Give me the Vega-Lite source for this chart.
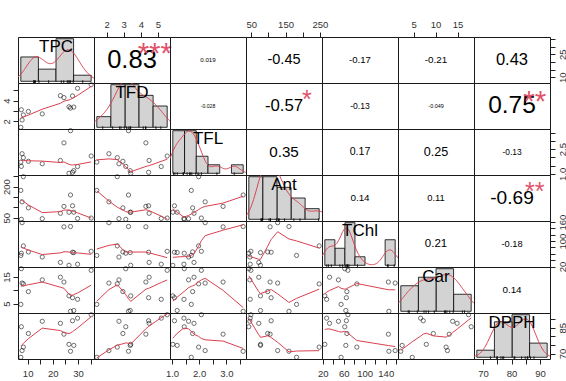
{
"$schema":"https://vega.github.io/schema/vega-lite/v6.json",
"padding":{"left":0,"top":18,"right":0,"bottom":0},
"background":"white",
"datasets":{"obs":[
{"TPC":7.3,"TFD":1.42,"TFL":1.71,"Ant":182,"TChl":55,"Car":4.7,"DPPH":67.8},
{"TPC":7.5,"TFD":3.12,"TFL":1.45,"Ant":43,"TChl":62,"Car":18.1,"DPPH":85.5},
{"TPC":7.8,"TFD":2.13,"TFL":2.22,"Ant":127,"TChl":158,"Car":12.7,"DPPH":71.7},
{"TPC":8.3,"TFD":2.62,"TFL":1.98,"Ant":248,"TChl":85,"Car":12.4,"DPPH":73.7},
{"TPC":10.3,"TFD":2.95,"TFL":1.76,"Ant":98,"TChl":66,"Car":9.5,"DPPH":81.6},
{"TPC":15.8,"TFD":2.72,"TFL":1.61,"Ant":46,"TChl":50,"Car":13.9,"DPPH":88.7},
{"TPC":23.0,"TFD":4.49,"TFL":1.81,"Ant":72,"TChl":33,"Car":14.9,"DPPH":87.5},
{"TPC":24.4,"TFD":4.30,"TFL":2.88,"Ant":105,"TChl":145,"Car":13.1,"DPPH":81.2},
{"TPC":26.4,"TFD":3.41,"TFL":1.03,"Ant":77,"TChl":24,"Car":7.9,"DPPH":75.3},
{"TPC":27.0,"TFD":3.28,"TFL":3.62,"Ant":160,"TChl":146,"Car":2.1,"DPPH":71.3},
{"TPC":27.8,"TFD":4.46,"TFL":1.09,"Ant":108,"TChl":65,"Car":7.2,"DPPH":89.0},
{"TPC":28.3,"TFD":3.38,"TFL":1.19,"Ant":77,"TChl":64,"Car":2.4,"DPPH":74.7},
{"TPC":29.8,"TFD":5.20,"TFL":1.44,"Ant":47,"TChl":27.5,"Car":6.6,"DPPH":90.5},
{"TPC":35.2,"TFD":5.55,"TFL":2.08,"Ant":49,"TChl":68,"Car":17.5,"DPPH":92.5}
]},
"columns":7,
"spacing":0,
"bounds":"flush",
"concat":[
{"width":76,"height":46,"data":{"name":"obs"},"layer":[
 {"transform":[{"bin":{"extent":[0,40],"step":10},"field":"TPC","as":["s_TPC","e_TPC"]},{"aggregate":[{"op":"count","as":"n_TPC"}],"groupby":["s_TPC","e_TPC"]}],"mark":{"type":"bar","fill":"#d3d3d3","stroke":"#000","strokeWidth":0.8,"clip":true},"encoding":{"x":{"field":"s_TPC","type":"quantitative","scale":{"domain":[-1.6,41.6],"nice":false,"zero":false},"axis":null},"x2":{"field":"e_TPC"},"y":{"field":"n_TPC","type":"quantitative","scale":{"domain":[-0.28,7.28],"nice":false,"zero":false},"axis":null},"y2":{"datum":0}}},
 {"transform":[{"density":"TPC","bandwidth":5.29,"extent":[-1.6,41.6],"steps":120,"as":["v_TPC","d_TPC"]}],"mark":{"type":"line","color":"#d9404f","strokeWidth":1,"clip":true},"encoding":{"x":{"field":"v_TPC","type":"quantitative","scale":{"domain":[-1.6,41.6],"nice":false,"zero":false},"axis":null},"y":{"field":"d_TPC","type":"quantitative","scale":{"domain":[-0.002,0.052],"nice":false,"zero":false},"axis":null}}},
 {"mark":{"type":"rule","color":"#000","strokeWidth":0.8},"encoding":{"x":{"field":"TPC","type":"quantitative","scale":{"domain":[-1.6,41.6],"nice":false,"zero":false},"axis":null},"y":{"datum":-0.28,"type":"quantitative","scale":{"domain":[-0.28,7.28],"nice":false,"zero":false},"axis":null},"y2":{"datum":0.174}}},
 {"data":{"values":[{"name":"TPC"}]},"mark":{"type":"text","fontSize":17},"encoding":{"text":{"field":"name"},"x":{"datum":0.5,"type":"quantitative","scale":{"domain":[0,1]},"axis":null},"y":{"datum":0.78,"type":"quantitative","scale":{"domain":[0,1]},"axis":null}}}
],"resolve":{"scale":{"x":"independent","y":"independent"}}},
{"width":76,"height":46,"data":{"values":[{"r":"0.83","sig":"***"}]},"layer":[
 {"mark":{"type":"text","fontSize":25.5},"encoding":{"text":{"field":"r"},"x":{"datum":0.5,"type":"quantitative","scale":{"domain":[0,1]},"axis":null},"y":{"datum":0.5,"type":"quantitative","scale":{"domain":[0,1]},"axis":null}}},
 {"mark":{"type":"text","fontSize":29.4,"color":"#DF536B"},"encoding":{"text":{"field":"sig"},"x":{"datum":0.8,"type":"quantitative","scale":{"domain":[0,1]},"axis":null},"y":{"datum":0.63,"type":"quantitative","scale":{"domain":[0,1]},"axis":null}}},
 {"data":{"name":"obs"},"mark":{"type":"point","opacity":0},"encoding":{"x":{"field":"TFD","type":"quantitative","scale":{"domain":[1.255,5.715],"nice":false,"zero":false},"axis":{"orient":"top","values":[2,3,4,5],"labelPadding":3,"title":null}}}}
],"resolve":{"scale":{"x":"independent","y":"independent"}}},
{"width":76,"height":46,"data":{"values":[{"r":"0.019"}]},"mark":{"type":"text","fontSize":6.2},"encoding":{"text":{"field":"r"},"x":{"datum":0.5,"type":"quantitative","scale":{"domain":[0,1]},"axis":null},"y":{"datum":0.5,"type":"quantitative","scale":{"domain":[0,1]},"axis":null}}},
{"width":76,"height":46,"data":{"values":[{"r":"-0.45"}]},"layer":[
 {"mark":{"type":"text","fontSize":14.5},"encoding":{"text":{"field":"r"},"x":{"datum":0.5,"type":"quantitative","scale":{"domain":[0,1]},"axis":null},"y":{"datum":0.5,"type":"quantitative","scale":{"domain":[0,1]},"axis":null}}},
 {"data":{"name":"obs"},"mark":{"type":"point","opacity":0},"encoding":{"x":{"field":"Ant","type":"quantitative","scale":{"domain":[34.8,256.2],"nice":false,"zero":false},"axis":{"orient":"top","values":[50,100,150,200,250],"labelExpr":"(datum.value==50||datum.value==150||datum.value==250)?datum.label:''","labelPadding":3,"title":null}}}}
],"resolve":{"scale":{"x":"independent","y":"independent"}}},
{"width":76,"height":46,"data":{"values":[{"r":"-0.17"}]},"mark":{"type":"text","fontSize":9.6},"encoding":{"text":{"field":"r"},"x":{"datum":0.5,"type":"quantitative","scale":{"domain":[0,1]},"axis":null},"y":{"datum":0.5,"type":"quantitative","scale":{"domain":[0,1]},"axis":null}}},
{"width":76,"height":46,"data":{"values":[{"r":"-0.21"}]},"layer":[
 {"mark":{"type":"text","fontSize":9.8},"encoding":{"text":{"field":"r"},"x":{"datum":0.5,"type":"quantitative","scale":{"domain":[0,1]},"axis":null},"y":{"datum":0.5,"type":"quantitative","scale":{"domain":[0,1]},"axis":null}}},
 {"data":{"name":"obs"},"mark":{"type":"point","opacity":0},"encoding":{"x":{"field":"Car","type":"quantitative","scale":{"domain":[1.46,18.74],"nice":false,"zero":false},"axis":{"orient":"top","values":[5,10,15],"labelPadding":3,"title":null}}}}
],"resolve":{"scale":{"x":"independent","y":"independent"}}},
{"width":76,"height":46,"data":{"values":[{"r":"0.43"}]},"layer":[
 {"mark":{"type":"text","fontSize":16.5},"encoding":{"text":{"field":"r"},"x":{"datum":0.5,"type":"quantitative","scale":{"domain":[0,1]},"axis":null},"y":{"datum":0.5,"type":"quantitative","scale":{"domain":[0,1]},"axis":null}}},
 {"data":{"name":"obs"},"mark":{"type":"point","opacity":0},"encoding":{"y":{"field":"TPC","type":"quantitative","scale":{"domain":[6.18,36.32],"nice":false,"zero":false},"axis":{"orient":"right","values":[10,15,20,25,30,35],"labelExpr":"(datum.value==10||datum.value==25)?datum.label:''","labelAngle":-90,"labelAlign":"center","labelBaseline":"top","labelPadding":2,"title":null}}}}
],"resolve":{"scale":{"x":"independent","y":"independent"}}},

{"width":76,"height":46,"data":{"name":"obs"},"layer":[
 {"mark":{"type":"point","filled":false,"color":"#000","size":18,"strokeWidth":0.8},"encoding":{"x":{"field":"TPC","type":"quantitative","scale":{"domain":[6.18,36.32],"nice":false,"zero":false},"axis":null},"y":{"field":"TFD","type":"quantitative","scale":{"domain":[1.255,5.715],"nice":false,"zero":false},"axis":{"orient":"left","values":[2,3,4,5],"labelExpr":"(datum.value==2||datum.value==4)?datum.label:''","labelAngle":-90,"labelAlign":"center","labelBaseline":"bottom","labelPadding":2,"title":null}}}},
 {"transform":[{"loess":"TFD","on":"TPC","bandwidth":0.67}],"mark":{"type":"line","color":"#d9404f","strokeWidth":1,"clip":true},"encoding":{"x":{"field":"TPC","type":"quantitative","scale":{"domain":[6.18,36.32],"nice":false,"zero":false},"axis":null},"y":{"field":"TFD","type":"quantitative","scale":{"domain":[1.255,5.715],"nice":false,"zero":false},"axis":{"orient":"left","values":[2,3,4,5],"labelExpr":"(datum.value==2||datum.value==4)?datum.label:''","labelAngle":-90,"labelAlign":"center","labelBaseline":"bottom","labelPadding":2,"title":null}}}}
]},
{"width":76,"height":46,"data":{"name":"obs"},"layer":[
 {"transform":[{"bin":{"extent":[1,6],"step":1},"field":"TFD","as":["s_TFD","e_TFD"]},{"aggregate":[{"op":"count","as":"n_TFD"}],"groupby":["s_TFD","e_TFD"]}],"mark":{"type":"bar","fill":"#d3d3d3","stroke":"#000","strokeWidth":0.8,"clip":true},"encoding":{"x":{"field":"s_TFD","type":"quantitative","scale":{"domain":[0.8,6.2],"nice":false,"zero":false},"axis":null},"x2":{"field":"e_TFD"},"y":{"field":"n_TFD","type":"quantitative","scale":{"domain":[-0.16,4.16],"nice":false,"zero":false},"axis":null},"y2":{"datum":0}}},
 {"transform":[{"density":"TFD","bandwidth":0.619,"extent":[0.8,6.2],"steps":120,"as":["v_TFD","d_TFD"]}],"mark":{"type":"line","color":"#d9404f","strokeWidth":1,"clip":true},"encoding":{"x":{"field":"v_TFD","type":"quantitative","scale":{"domain":[0.8,6.2],"nice":false,"zero":false},"axis":null},"y":{"field":"d_TFD","type":"quantitative","scale":{"domain":[-0.011429,0.297143],"nice":false,"zero":false},"axis":null}}},
 {"mark":{"type":"rule","color":"#000","strokeWidth":0.8},"encoding":{"x":{"field":"TFD","type":"quantitative","scale":{"domain":[0.8,6.2],"nice":false,"zero":false},"axis":null},"y":{"datum":-0.16,"type":"quantitative","scale":{"domain":[-0.16,4.16],"nice":false,"zero":false},"axis":null},"y2":{"datum":0.0896}}},
 {"data":{"values":[{"name":"TFD"}]},"mark":{"type":"text","fontSize":17},"encoding":{"text":{"field":"name"},"x":{"datum":0.5,"type":"quantitative","scale":{"domain":[0,1]},"axis":null},"y":{"datum":0.78,"type":"quantitative","scale":{"domain":[0,1]},"axis":null}}}
],"resolve":{"scale":{"x":"independent","y":"independent"}}},
{"width":76,"height":46,"data":{"values":[{"r":"-0.028"}]},"mark":{"type":"text","fontSize":5.1},"encoding":{"text":{"field":"r"},"x":{"datum":0.5,"type":"quantitative","scale":{"domain":[0,1]},"axis":null},"y":{"datum":0.5,"type":"quantitative","scale":{"domain":[0,1]},"axis":null}}},
{"width":76,"height":46,"data":{"values":[{"r":"-0.57","sig":"*"}]},"layer":[
 {"mark":{"type":"text","fontSize":16.8},"encoding":{"text":{"field":"r"},"x":{"datum":0.5,"type":"quantitative","scale":{"domain":[0,1]},"axis":null},"y":{"datum":0.5,"type":"quantitative","scale":{"domain":[0,1]},"axis":null}}},
 {"mark":{"type":"text","fontSize":25,"color":"#DF536B"},"encoding":{"text":{"field":"sig"},"x":{"datum":0.8,"type":"quantitative","scale":{"domain":[0,1]},"axis":null},"y":{"datum":0.62,"type":"quantitative","scale":{"domain":[0,1]},"axis":null}}}
]},
{"width":76,"height":46,"data":{"values":[{"r":"-0.13"}]},"mark":{"type":"text","fontSize":8.6},"encoding":{"text":{"field":"r"},"x":{"datum":0.5,"type":"quantitative","scale":{"domain":[0,1]},"axis":null},"y":{"datum":0.5,"type":"quantitative","scale":{"domain":[0,1]},"axis":null}}},
{"width":76,"height":46,"data":{"values":[{"r":"-0.049"}]},"mark":{"type":"text","fontSize":5.4},"encoding":{"text":{"field":"r"},"x":{"datum":0.5,"type":"quantitative","scale":{"domain":[0,1]},"axis":null},"y":{"datum":0.5,"type":"quantitative","scale":{"domain":[0,1]},"axis":null}}},
{"width":76,"height":46,"data":{"values":[{"r":"0.75","sig":"**"}]},"layer":[
 {"mark":{"type":"text","fontSize":24.5},"encoding":{"text":{"field":"r"},"x":{"datum":0.5,"type":"quantitative","scale":{"domain":[0,1]},"axis":null},"y":{"datum":0.5,"type":"quantitative","scale":{"domain":[0,1]},"axis":null}}},
 {"mark":{"type":"text","fontSize":29.4,"color":"#DF536B"},"encoding":{"text":{"field":"sig"},"x":{"datum":0.8,"type":"quantitative","scale":{"domain":[0,1]},"axis":null},"y":{"datum":0.58,"type":"quantitative","scale":{"domain":[0,1]},"axis":null}}}
]},

{"width":76,"height":46,"data":{"name":"obs"},"layer":[
 {"mark":{"type":"point","filled":false,"color":"#000","size":18,"strokeWidth":0.8},"encoding":{"x":{"field":"TPC","type":"quantitative","scale":{"domain":[6.18,36.32],"nice":false,"zero":false},"axis":null},"y":{"field":"TFL","type":"quantitative","scale":{"domain":[0.926,3.724],"nice":false,"zero":false},"axis":null}}},
 {"transform":[{"loess":"TFL","on":"TPC","bandwidth":0.67}],"mark":{"type":"line","color":"#d9404f","strokeWidth":1,"clip":true},"encoding":{"x":{"field":"TPC","type":"quantitative","scale":{"domain":[6.18,36.32],"nice":false,"zero":false},"axis":null},"y":{"field":"TFL","type":"quantitative","scale":{"domain":[0.926,3.724],"nice":false,"zero":false},"axis":null}}}
]},
{"width":76,"height":46,"data":{"name":"obs"},"layer":[
 {"mark":{"type":"point","filled":false,"color":"#000","size":18,"strokeWidth":0.8},"encoding":{"x":{"field":"TFD","type":"quantitative","scale":{"domain":[1.255,5.715],"nice":false,"zero":false},"axis":null},"y":{"field":"TFL","type":"quantitative","scale":{"domain":[0.926,3.724],"nice":false,"zero":false},"axis":null}}},
 {"transform":[{"loess":"TFL","on":"TFD","bandwidth":0.67}],"mark":{"type":"line","color":"#d9404f","strokeWidth":1,"clip":true},"encoding":{"x":{"field":"TFD","type":"quantitative","scale":{"domain":[1.255,5.715],"nice":false,"zero":false},"axis":null},"y":{"field":"TFL","type":"quantitative","scale":{"domain":[0.926,3.724],"nice":false,"zero":false},"axis":null}}}
]},
{"width":76,"height":46,"data":{"name":"obs"},"layer":[
 {"transform":[{"bin":{"extent":[1,4],"step":0.5},"field":"TFL","as":["s_TFL","e_TFL"]},{"aggregate":[{"op":"count","as":"n_TFL"}],"groupby":["s_TFL","e_TFL"]}],"mark":{"type":"bar","fill":"#d3d3d3","stroke":"#000","strokeWidth":0.8,"clip":true},"encoding":{"x":{"field":"s_TFL","type":"quantitative","scale":{"domain":[0.88,4.12],"nice":false,"zero":false},"axis":null},"x2":{"field":"e_TFL"},"y":{"field":"n_TFL","type":"quantitative","scale":{"domain":[-0.2,5.2],"nice":false,"zero":false},"axis":null},"y2":{"datum":0}}},
 {"transform":[{"density":"TFL","bandwidth":0.243,"extent":[0.88,4.12],"steps":120,"as":["v_TFL","d_TFL"]}],"mark":{"type":"line","color":"#d9404f","strokeWidth":1,"clip":true},"encoding":{"x":{"field":"v_TFL","type":"quantitative","scale":{"domain":[0.88,4.12],"nice":false,"zero":false},"axis":null},"y":{"field":"d_TFL","type":"quantitative","scale":{"domain":[-0.028571,0.742857],"nice":false,"zero":false},"axis":null}}},
 {"mark":{"type":"rule","color":"#000","strokeWidth":0.8},"encoding":{"x":{"field":"TFL","type":"quantitative","scale":{"domain":[0.88,4.12],"nice":false,"zero":false},"axis":null},"y":{"datum":-0.2,"type":"quantitative","scale":{"domain":[-0.2,5.2],"nice":false,"zero":false},"axis":null},"y2":{"datum":0.112}}},
 {"data":{"values":[{"name":"TFL"}]},"mark":{"type":"text","fontSize":17},"encoding":{"text":{"field":"name"},"x":{"datum":0.5,"type":"quantitative","scale":{"domain":[0,1]},"axis":null},"y":{"datum":0.78,"type":"quantitative","scale":{"domain":[0,1]},"axis":null}}}
],"resolve":{"scale":{"x":"independent","y":"independent"}}},
{"width":76,"height":46,"data":{"values":[{"r":"0.35"}]},"mark":{"type":"text","fontSize":15.2},"encoding":{"text":{"field":"r"},"x":{"datum":0.5,"type":"quantitative","scale":{"domain":[0,1]},"axis":null},"y":{"datum":0.5,"type":"quantitative","scale":{"domain":[0,1]},"axis":null}}},
{"width":76,"height":46,"data":{"values":[{"r":"0.17"}]},"mark":{"type":"text","fontSize":10.6},"encoding":{"text":{"field":"r"},"x":{"datum":0.5,"type":"quantitative","scale":{"domain":[0,1]},"axis":null},"y":{"datum":0.5,"type":"quantitative","scale":{"domain":[0,1]},"axis":null}}},
{"width":76,"height":46,"data":{"values":[{"r":"0.25"}]},"mark":{"type":"text","fontSize":12.6},"encoding":{"text":{"field":"r"},"x":{"datum":0.5,"type":"quantitative","scale":{"domain":[0,1]},"axis":null},"y":{"datum":0.5,"type":"quantitative","scale":{"domain":[0,1]},"axis":null}}},
{"width":76,"height":46,"data":{"values":[{"r":"-0.13"}]},"layer":[
 {"mark":{"type":"text","fontSize":8.4},"encoding":{"text":{"field":"r"},"x":{"datum":0.5,"type":"quantitative","scale":{"domain":[0,1]},"axis":null},"y":{"datum":0.5,"type":"quantitative","scale":{"domain":[0,1]},"axis":null}}},
 {"data":{"name":"obs"},"mark":{"type":"point","opacity":0},"encoding":{"y":{"field":"TFL","type":"quantitative","scale":{"domain":[0.926,3.724],"nice":false,"zero":false},"axis":{"orient":"right","values":[1,1.5,2,2.5,3,3.5],"format":".1f","labelExpr":"(datum.value==1||datum.value==2.5)?datum.label:''","labelAngle":-90,"labelAlign":"center","labelBaseline":"top","labelPadding":2,"title":null}}}}
],"resolve":{"scale":{"x":"independent","y":"independent"}}},

{"width":76,"height":46,"data":{"name":"obs"},"layer":[
 {"mark":{"type":"point","filled":false,"color":"#000","size":18,"strokeWidth":0.8},"encoding":{"x":{"field":"TPC","type":"quantitative","scale":{"domain":[6.18,36.32],"nice":false,"zero":false},"axis":null},"y":{"field":"Ant","type":"quantitative","scale":{"domain":[34.8,256.2],"nice":false,"zero":false},"axis":{"orient":"left","values":[50,100,150,200,250],"labelExpr":"(datum.value==50||datum.value==200)?datum.label:''","labelAngle":-90,"labelAlign":"center","labelBaseline":"bottom","labelPadding":2,"title":null}}}},
 {"transform":[{"loess":"Ant","on":"TPC","bandwidth":0.67}],"mark":{"type":"line","color":"#d9404f","strokeWidth":1,"clip":true},"encoding":{"x":{"field":"TPC","type":"quantitative","scale":{"domain":[6.18,36.32],"nice":false,"zero":false},"axis":null},"y":{"field":"Ant","type":"quantitative","scale":{"domain":[34.8,256.2],"nice":false,"zero":false},"axis":{"orient":"left","values":[50,100,150,200,250],"labelExpr":"(datum.value==50||datum.value==200)?datum.label:''","labelAngle":-90,"labelAlign":"center","labelBaseline":"bottom","labelPadding":2,"title":null}}}}
]},
{"width":76,"height":46,"data":{"name":"obs"},"layer":[
 {"mark":{"type":"point","filled":false,"color":"#000","size":18,"strokeWidth":0.8},"encoding":{"x":{"field":"TFD","type":"quantitative","scale":{"domain":[1.255,5.715],"nice":false,"zero":false},"axis":null},"y":{"field":"Ant","type":"quantitative","scale":{"domain":[34.8,256.2],"nice":false,"zero":false},"axis":null}}},
 {"transform":[{"loess":"Ant","on":"TFD","bandwidth":0.67}],"mark":{"type":"line","color":"#d9404f","strokeWidth":1,"clip":true},"encoding":{"x":{"field":"TFD","type":"quantitative","scale":{"domain":[1.255,5.715],"nice":false,"zero":false},"axis":null},"y":{"field":"Ant","type":"quantitative","scale":{"domain":[34.8,256.2],"nice":false,"zero":false},"axis":null}}}
]},
{"width":76,"height":46,"data":{"name":"obs"},"layer":[
 {"mark":{"type":"point","filled":false,"color":"#000","size":18,"strokeWidth":0.8},"encoding":{"x":{"field":"TFL","type":"quantitative","scale":{"domain":[0.926,3.724],"nice":false,"zero":false},"axis":null},"y":{"field":"Ant","type":"quantitative","scale":{"domain":[34.8,256.2],"nice":false,"zero":false},"axis":null}}},
 {"transform":[{"loess":"Ant","on":"TFL","bandwidth":0.67}],"mark":{"type":"line","color":"#d9404f","strokeWidth":1,"clip":true},"encoding":{"x":{"field":"TFL","type":"quantitative","scale":{"domain":[0.926,3.724],"nice":false,"zero":false},"axis":null},"y":{"field":"Ant","type":"quantitative","scale":{"domain":[34.8,256.2],"nice":false,"zero":false},"axis":null}}}
]},
{"width":76,"height":46,"data":{"name":"obs"},"layer":[
 {"transform":[{"bin":{"extent":[0,250],"step":50},"field":"Ant","as":["s_Ant","e_Ant"]},{"aggregate":[{"op":"count","as":"n_Ant"}],"groupby":["s_Ant","e_Ant"]}],"mark":{"type":"bar","fill":"#d3d3d3","stroke":"#000","strokeWidth":0.8,"clip":true},"encoding":{"x":{"field":"s_Ant","type":"quantitative","scale":{"domain":[-10,260],"nice":false,"zero":false},"axis":null},"x2":{"field":"e_Ant"},"y":{"field":"n_Ant","type":"quantitative","scale":{"domain":[-0.16,4.16],"nice":false,"zero":false},"axis":null},"y2":{"datum":0}}},
 {"transform":[{"density":"Ant","bandwidth":26.7,"extent":[-10,260],"steps":120,"as":["v_Ant","d_Ant"]}],"mark":{"type":"line","color":"#d9404f","strokeWidth":1,"clip":true},"encoding":{"x":{"field":"v_Ant","type":"quantitative","scale":{"domain":[-10,260],"nice":false,"zero":false},"axis":null},"y":{"field":"d_Ant","type":"quantitative","scale":{"domain":[-0.000229,0.005943],"nice":false,"zero":false},"axis":null}}},
 {"mark":{"type":"rule","color":"#000","strokeWidth":0.8},"encoding":{"x":{"field":"Ant","type":"quantitative","scale":{"domain":[-10,260],"nice":false,"zero":false},"axis":null},"y":{"datum":-0.16,"type":"quantitative","scale":{"domain":[-0.16,4.16],"nice":false,"zero":false},"axis":null},"y2":{"datum":0.0896}}},
 {"data":{"values":[{"name":"Ant"}]},"mark":{"type":"text","fontSize":17},"encoding":{"text":{"field":"name"},"x":{"datum":0.5,"type":"quantitative","scale":{"domain":[0,1]},"axis":null},"y":{"datum":0.78,"type":"quantitative","scale":{"domain":[0,1]},"axis":null}}}
],"resolve":{"scale":{"x":"independent","y":"independent"}}},
{"width":76,"height":46,"data":{"values":[{"r":"0.14"}]},"mark":{"type":"text","fontSize":9.9},"encoding":{"text":{"field":"r"},"x":{"datum":0.5,"type":"quantitative","scale":{"domain":[0,1]},"axis":null},"y":{"datum":0.5,"type":"quantitative","scale":{"domain":[0,1]},"axis":null}}},
{"width":76,"height":46,"data":{"values":[{"r":"0.11"}]},"mark":{"type":"text","fontSize":9.4},"encoding":{"text":{"field":"r"},"x":{"datum":0.5,"type":"quantitative","scale":{"domain":[0,1]},"axis":null},"y":{"datum":0.5,"type":"quantitative","scale":{"domain":[0,1]},"axis":null}}},
{"width":76,"height":46,"data":{"values":[{"r":"-0.69","sig":"**"}]},"layer":[
 {"mark":{"type":"text","fontSize":19.1},"encoding":{"text":{"field":"r"},"x":{"datum":0.5,"type":"quantitative","scale":{"domain":[0,1]},"axis":null},"y":{"datum":0.5,"type":"quantitative","scale":{"domain":[0,1]},"axis":null}}},
 {"mark":{"type":"text","fontSize":25,"color":"#DF536B"},"encoding":{"text":{"field":"sig"},"x":{"datum":0.8,"type":"quantitative","scale":{"domain":[0,1]},"axis":null},"y":{"datum":0.64,"type":"quantitative","scale":{"domain":[0,1]},"axis":null}}}
]},

{"width":76,"height":46,"data":{"name":"obs"},"layer":[
 {"mark":{"type":"point","filled":false,"color":"#000","size":18,"strokeWidth":0.8},"encoding":{"x":{"field":"TPC","type":"quantitative","scale":{"domain":[6.18,36.32],"nice":false,"zero":false},"axis":null},"y":{"field":"TChl","type":"quantitative","scale":{"domain":[18.64,163.36],"nice":false,"zero":false},"axis":null}}},
 {"transform":[{"loess":"TChl","on":"TPC","bandwidth":0.67}],"mark":{"type":"line","color":"#d9404f","strokeWidth":1,"clip":true},"encoding":{"x":{"field":"TPC","type":"quantitative","scale":{"domain":[6.18,36.32],"nice":false,"zero":false},"axis":null},"y":{"field":"TChl","type":"quantitative","scale":{"domain":[18.64,163.36],"nice":false,"zero":false},"axis":null}}}
]},
{"width":76,"height":46,"data":{"name":"obs"},"layer":[
 {"mark":{"type":"point","filled":false,"color":"#000","size":18,"strokeWidth":0.8},"encoding":{"x":{"field":"TFD","type":"quantitative","scale":{"domain":[1.255,5.715],"nice":false,"zero":false},"axis":null},"y":{"field":"TChl","type":"quantitative","scale":{"domain":[18.64,163.36],"nice":false,"zero":false},"axis":null}}},
 {"transform":[{"loess":"TChl","on":"TFD","bandwidth":0.67}],"mark":{"type":"line","color":"#d9404f","strokeWidth":1,"clip":true},"encoding":{"x":{"field":"TFD","type":"quantitative","scale":{"domain":[1.255,5.715],"nice":false,"zero":false},"axis":null},"y":{"field":"TChl","type":"quantitative","scale":{"domain":[18.64,163.36],"nice":false,"zero":false},"axis":null}}}
]},
{"width":76,"height":46,"data":{"name":"obs"},"layer":[
 {"mark":{"type":"point","filled":false,"color":"#000","size":18,"strokeWidth":0.8},"encoding":{"x":{"field":"TFL","type":"quantitative","scale":{"domain":[0.926,3.724],"nice":false,"zero":false},"axis":null},"y":{"field":"TChl","type":"quantitative","scale":{"domain":[18.64,163.36],"nice":false,"zero":false},"axis":null}}},
 {"transform":[{"loess":"TChl","on":"TFL","bandwidth":0.67}],"mark":{"type":"line","color":"#d9404f","strokeWidth":1,"clip":true},"encoding":{"x":{"field":"TFL","type":"quantitative","scale":{"domain":[0.926,3.724],"nice":false,"zero":false},"axis":null},"y":{"field":"TChl","type":"quantitative","scale":{"domain":[18.64,163.36],"nice":false,"zero":false},"axis":null}}}
]},
{"width":76,"height":46,"data":{"name":"obs"},"layer":[
 {"mark":{"type":"point","filled":false,"color":"#000","size":18,"strokeWidth":0.8},"encoding":{"x":{"field":"Ant","type":"quantitative","scale":{"domain":[34.8,256.2],"nice":false,"zero":false},"axis":null},"y":{"field":"TChl","type":"quantitative","scale":{"domain":[18.64,163.36],"nice":false,"zero":false},"axis":null}}},
 {"transform":[{"loess":"TChl","on":"Ant","bandwidth":0.67}],"mark":{"type":"line","color":"#d9404f","strokeWidth":1,"clip":true},"encoding":{"x":{"field":"Ant","type":"quantitative","scale":{"domain":[34.8,256.2],"nice":false,"zero":false},"axis":null},"y":{"field":"TChl","type":"quantitative","scale":{"domain":[18.64,163.36],"nice":false,"zero":false},"axis":null}}}
]},
{"width":76,"height":46,"data":{"name":"obs"},"layer":[
 {"transform":[{"bin":{"extent":[20,160],"step":20},"field":"TChl","as":["s_TChl","e_TChl"]},{"aggregate":[{"op":"count","as":"n_TChl"}],"groupby":["s_TChl","e_TChl"]}],"mark":{"type":"bar","fill":"#d3d3d3","stroke":"#000","strokeWidth":0.8,"clip":true},"encoding":{"x":{"field":"s_TChl","type":"quantitative","scale":{"domain":[14.4,165.6],"nice":false,"zero":false},"axis":null},"x2":{"field":"e_TChl"},"y":{"field":"n_TChl","type":"quantitative","scale":{"domain":[-0.2,5.2],"nice":false,"zero":false},"axis":null},"y2":{"datum":0}}},
 {"transform":[{"density":"TChl","bandwidth":11.7,"extent":[14.4,165.6],"steps":120,"as":["v_TChl","d_TChl"]}],"mark":{"type":"line","color":"#d9404f","strokeWidth":1,"clip":true},"encoding":{"x":{"field":"v_TChl","type":"quantitative","scale":{"domain":[14.4,165.6],"nice":false,"zero":false},"axis":null},"y":{"field":"d_TChl","type":"quantitative","scale":{"domain":[-0.000714,0.018571],"nice":false,"zero":false},"axis":null}}},
 {"mark":{"type":"rule","color":"#000","strokeWidth":0.8},"encoding":{"x":{"field":"TChl","type":"quantitative","scale":{"domain":[14.4,165.6],"nice":false,"zero":false},"axis":null},"y":{"datum":-0.2,"type":"quantitative","scale":{"domain":[-0.2,5.2],"nice":false,"zero":false},"axis":null},"y2":{"datum":0.112}}},
 {"data":{"values":[{"name":"TChl"}]},"mark":{"type":"text","fontSize":17},"encoding":{"text":{"field":"name"},"x":{"datum":0.5,"type":"quantitative","scale":{"domain":[0,1]},"axis":null},"y":{"datum":0.78,"type":"quantitative","scale":{"domain":[0,1]},"axis":null}}}
],"resolve":{"scale":{"x":"independent","y":"independent"}}},
{"width":76,"height":46,"data":{"values":[{"r":"0.21"}]},"mark":{"type":"text","fontSize":11.5},"encoding":{"text":{"field":"r"},"x":{"datum":0.5,"type":"quantitative","scale":{"domain":[0,1]},"axis":null},"y":{"datum":0.5,"type":"quantitative","scale":{"domain":[0,1]},"axis":null}}},
{"width":76,"height":46,"data":{"values":[{"r":"-0.18"}]},"layer":[
 {"mark":{"type":"text","fontSize":9.3},"encoding":{"text":{"field":"r"},"x":{"datum":0.5,"type":"quantitative","scale":{"domain":[0,1]},"axis":null},"y":{"datum":0.5,"type":"quantitative","scale":{"domain":[0,1]},"axis":null}}},
 {"data":{"name":"obs"},"mark":{"type":"point","opacity":0},"encoding":{"y":{"field":"TChl","type":"quantitative","scale":{"domain":[18.64,163.36],"nice":false,"zero":false},"axis":{"orient":"right","values":[20,40,60,80,100,120,140,160],"labelExpr":"(datum.value==20||datum.value==100||datum.value==160)?datum.label:''","labelAngle":-90,"labelAlign":"center","labelBaseline":"top","labelPadding":2,"title":null}}}}
],"resolve":{"scale":{"x":"independent","y":"independent"}}},

{"width":76,"height":46,"data":{"name":"obs"},"layer":[
 {"mark":{"type":"point","filled":false,"color":"#000","size":18,"strokeWidth":0.8},"encoding":{"x":{"field":"TPC","type":"quantitative","scale":{"domain":[6.18,36.32],"nice":false,"zero":false},"axis":null},"y":{"field":"Car","type":"quantitative","scale":{"domain":[1.46,18.74],"nice":false,"zero":false},"axis":{"orient":"left","values":[5,10,15],"labelExpr":"(datum.value==5||datum.value==15)?datum.label:''","labelAngle":-90,"labelAlign":"center","labelBaseline":"bottom","labelPadding":2,"title":null}}}},
 {"transform":[{"loess":"Car","on":"TPC","bandwidth":0.67}],"mark":{"type":"line","color":"#d9404f","strokeWidth":1,"clip":true},"encoding":{"x":{"field":"TPC","type":"quantitative","scale":{"domain":[6.18,36.32],"nice":false,"zero":false},"axis":null},"y":{"field":"Car","type":"quantitative","scale":{"domain":[1.46,18.74],"nice":false,"zero":false},"axis":{"orient":"left","values":[5,10,15],"labelExpr":"(datum.value==5||datum.value==15)?datum.label:''","labelAngle":-90,"labelAlign":"center","labelBaseline":"bottom","labelPadding":2,"title":null}}}}
]},
{"width":76,"height":46,"data":{"name":"obs"},"layer":[
 {"mark":{"type":"point","filled":false,"color":"#000","size":18,"strokeWidth":0.8},"encoding":{"x":{"field":"TFD","type":"quantitative","scale":{"domain":[1.255,5.715],"nice":false,"zero":false},"axis":null},"y":{"field":"Car","type":"quantitative","scale":{"domain":[1.46,18.74],"nice":false,"zero":false},"axis":null}}},
 {"transform":[{"loess":"Car","on":"TFD","bandwidth":0.67}],"mark":{"type":"line","color":"#d9404f","strokeWidth":1,"clip":true},"encoding":{"x":{"field":"TFD","type":"quantitative","scale":{"domain":[1.255,5.715],"nice":false,"zero":false},"axis":null},"y":{"field":"Car","type":"quantitative","scale":{"domain":[1.46,18.74],"nice":false,"zero":false},"axis":null}}}
]},
{"width":76,"height":46,"data":{"name":"obs"},"layer":[
 {"mark":{"type":"point","filled":false,"color":"#000","size":18,"strokeWidth":0.8},"encoding":{"x":{"field":"TFL","type":"quantitative","scale":{"domain":[0.926,3.724],"nice":false,"zero":false},"axis":null},"y":{"field":"Car","type":"quantitative","scale":{"domain":[1.46,18.74],"nice":false,"zero":false},"axis":null}}},
 {"transform":[{"loess":"Car","on":"TFL","bandwidth":0.67}],"mark":{"type":"line","color":"#d9404f","strokeWidth":1,"clip":true},"encoding":{"x":{"field":"TFL","type":"quantitative","scale":{"domain":[0.926,3.724],"nice":false,"zero":false},"axis":null},"y":{"field":"Car","type":"quantitative","scale":{"domain":[1.46,18.74],"nice":false,"zero":false},"axis":null}}}
]},
{"width":76,"height":46,"data":{"name":"obs"},"layer":[
 {"mark":{"type":"point","filled":false,"color":"#000","size":18,"strokeWidth":0.8},"encoding":{"x":{"field":"Ant","type":"quantitative","scale":{"domain":[34.8,256.2],"nice":false,"zero":false},"axis":null},"y":{"field":"Car","type":"quantitative","scale":{"domain":[1.46,18.74],"nice":false,"zero":false},"axis":null}}},
 {"transform":[{"loess":"Car","on":"Ant","bandwidth":0.67}],"mark":{"type":"line","color":"#d9404f","strokeWidth":1,"clip":true},"encoding":{"x":{"field":"Ant","type":"quantitative","scale":{"domain":[34.8,256.2],"nice":false,"zero":false},"axis":null},"y":{"field":"Car","type":"quantitative","scale":{"domain":[1.46,18.74],"nice":false,"zero":false},"axis":null}}}
]},
{"width":76,"height":46,"data":{"name":"obs"},"layer":[
 {"mark":{"type":"point","filled":false,"color":"#000","size":18,"strokeWidth":0.8},"encoding":{"x":{"field":"TChl","type":"quantitative","scale":{"domain":[18.64,163.36],"nice":false,"zero":false},"axis":null},"y":{"field":"Car","type":"quantitative","scale":{"domain":[1.46,18.74],"nice":false,"zero":false},"axis":null}}},
 {"transform":[{"loess":"Car","on":"TChl","bandwidth":0.67}],"mark":{"type":"line","color":"#d9404f","strokeWidth":1,"clip":true},"encoding":{"x":{"field":"TChl","type":"quantitative","scale":{"domain":[18.64,163.36],"nice":false,"zero":false},"axis":null},"y":{"field":"Car","type":"quantitative","scale":{"domain":[1.46,18.74],"nice":false,"zero":false},"axis":null}}}
]},
{"width":76,"height":46,"data":{"name":"obs"},"layer":[
 {"transform":[{"bin":{"extent":[0,20],"step":5},"field":"Car","as":["s_Car","e_Car"]},{"aggregate":[{"op":"count","as":"n_Car"}],"groupby":["s_Car","e_Car"]}],"mark":{"type":"bar","fill":"#d3d3d3","stroke":"#000","strokeWidth":0.8,"clip":true},"encoding":{"x":{"field":"s_Car","type":"quantitative","scale":{"domain":[-0.8,20.8],"nice":false,"zero":false},"axis":null},"x2":{"field":"e_Car"},"y":{"field":"n_Car","type":"quantitative","scale":{"domain":[-0.2,5.2],"nice":false,"zero":false},"axis":null},"y2":{"datum":0}}},
 {"transform":[{"density":"Car","bandwidth":2.75,"extent":[-0.8,20.8],"steps":120,"as":["v_Car","d_Car"]}],"mark":{"type":"line","color":"#d9404f","strokeWidth":1,"clip":true},"encoding":{"x":{"field":"v_Car","type":"quantitative","scale":{"domain":[-0.8,20.8],"nice":false,"zero":false},"axis":null},"y":{"field":"d_Car","type":"quantitative","scale":{"domain":[-0.002857,0.074286],"nice":false,"zero":false},"axis":null}}},
 {"mark":{"type":"rule","color":"#000","strokeWidth":0.8},"encoding":{"x":{"field":"Car","type":"quantitative","scale":{"domain":[-0.8,20.8],"nice":false,"zero":false},"axis":null},"y":{"datum":-0.2,"type":"quantitative","scale":{"domain":[-0.2,5.2],"nice":false,"zero":false},"axis":null},"y2":{"datum":0.112}}},
 {"data":{"values":[{"name":"Car"}]},"mark":{"type":"text","fontSize":17},"encoding":{"text":{"field":"name"},"x":{"datum":0.5,"type":"quantitative","scale":{"domain":[0,1]},"axis":null},"y":{"datum":0.78,"type":"quantitative","scale":{"domain":[0,1]},"axis":null}}}
],"resolve":{"scale":{"x":"independent","y":"independent"}}},
{"width":76,"height":46,"data":{"values":[{"r":"0.14"}]},"mark":{"type":"text","fontSize":9.9},"encoding":{"text":{"field":"r"},"x":{"datum":0.5,"type":"quantitative","scale":{"domain":[0,1]},"axis":null},"y":{"datum":0.5,"type":"quantitative","scale":{"domain":[0,1]},"axis":null}}},

{"width":76,"height":46,"data":{"name":"obs"},"layer":[
 {"mark":{"type":"point","filled":false,"color":"#000","size":18,"strokeWidth":0.8},"encoding":{"x":{"field":"TPC","type":"quantitative","scale":{"domain":[6.18,36.32],"nice":false,"zero":false},"axis":{"orient":"bottom","values":[10,15,20,25,30,35],"labelExpr":"(datum.value==10||datum.value==20||datum.value==30)?datum.label:''","labelPadding":4,"title":null}},"y":{"field":"DPPH","type":"quantitative","scale":{"domain":[66.81,93.49],"nice":false,"zero":false},"axis":null}}},
 {"transform":[{"loess":"DPPH","on":"TPC","bandwidth":0.67}],"mark":{"type":"line","color":"#d9404f","strokeWidth":1,"clip":true},"encoding":{"x":{"field":"TPC","type":"quantitative","scale":{"domain":[6.18,36.32],"nice":false,"zero":false},"axis":{"orient":"bottom","values":[10,15,20,25,30,35],"labelExpr":"(datum.value==10||datum.value==20||datum.value==30)?datum.label:''","labelPadding":4,"title":null}},"y":{"field":"DPPH","type":"quantitative","scale":{"domain":[66.81,93.49],"nice":false,"zero":false},"axis":null}}}
]},
{"width":76,"height":46,"data":{"name":"obs"},"layer":[
 {"mark":{"type":"point","filled":false,"color":"#000","size":18,"strokeWidth":0.8},"encoding":{"x":{"field":"TFD","type":"quantitative","scale":{"domain":[1.255,5.715],"nice":false,"zero":false},"axis":null},"y":{"field":"DPPH","type":"quantitative","scale":{"domain":[66.81,93.49],"nice":false,"zero":false},"axis":null}}},
 {"transform":[{"loess":"DPPH","on":"TFD","bandwidth":0.67}],"mark":{"type":"line","color":"#d9404f","strokeWidth":1,"clip":true},"encoding":{"x":{"field":"TFD","type":"quantitative","scale":{"domain":[1.255,5.715],"nice":false,"zero":false},"axis":null},"y":{"field":"DPPH","type":"quantitative","scale":{"domain":[66.81,93.49],"nice":false,"zero":false},"axis":null}}}
]},
{"width":76,"height":46,"data":{"name":"obs"},"layer":[
 {"mark":{"type":"point","filled":false,"color":"#000","size":18,"strokeWidth":0.8},"encoding":{"x":{"field":"TFL","type":"quantitative","scale":{"domain":[0.926,3.724],"nice":false,"zero":false},"axis":{"orient":"bottom","values":[1,1.5,2,2.5,3,3.5],"format":".1f","labelExpr":"(datum.value==1||datum.value==2||datum.value==3)?datum.label:''","labelPadding":4,"title":null}},"y":{"field":"DPPH","type":"quantitative","scale":{"domain":[66.81,93.49],"nice":false,"zero":false},"axis":null}}},
 {"transform":[{"loess":"DPPH","on":"TFL","bandwidth":0.67}],"mark":{"type":"line","color":"#d9404f","strokeWidth":1,"clip":true},"encoding":{"x":{"field":"TFL","type":"quantitative","scale":{"domain":[0.926,3.724],"nice":false,"zero":false},"axis":{"orient":"bottom","values":[1,1.5,2,2.5,3,3.5],"format":".1f","labelExpr":"(datum.value==1||datum.value==2||datum.value==3)?datum.label:''","labelPadding":4,"title":null}},"y":{"field":"DPPH","type":"quantitative","scale":{"domain":[66.81,93.49],"nice":false,"zero":false},"axis":null}}}
]},
{"width":76,"height":46,"data":{"name":"obs"},"layer":[
 {"mark":{"type":"point","filled":false,"color":"#000","size":18,"strokeWidth":0.8},"encoding":{"x":{"field":"Ant","type":"quantitative","scale":{"domain":[34.8,256.2],"nice":false,"zero":false},"axis":null},"y":{"field":"DPPH","type":"quantitative","scale":{"domain":[66.81,93.49],"nice":false,"zero":false},"axis":null}}},
 {"transform":[{"loess":"DPPH","on":"Ant","bandwidth":0.67}],"mark":{"type":"line","color":"#d9404f","strokeWidth":1,"clip":true},"encoding":{"x":{"field":"Ant","type":"quantitative","scale":{"domain":[34.8,256.2],"nice":false,"zero":false},"axis":null},"y":{"field":"DPPH","type":"quantitative","scale":{"domain":[66.81,93.49],"nice":false,"zero":false},"axis":null}}}
]},
{"width":76,"height":46,"data":{"name":"obs"},"layer":[
 {"mark":{"type":"point","filled":false,"color":"#000","size":18,"strokeWidth":0.8},"encoding":{"x":{"field":"TChl","type":"quantitative","scale":{"domain":[18.64,163.36],"nice":false,"zero":false},"axis":{"orient":"bottom","values":[20,40,60,80,100,120,140,160],"labelExpr":"(datum.value==20||datum.value==60||datum.value==100||datum.value==140)?datum.label:''","labelPadding":4,"title":null}},"y":{"field":"DPPH","type":"quantitative","scale":{"domain":[66.81,93.49],"nice":false,"zero":false},"axis":null}}},
 {"transform":[{"loess":"DPPH","on":"TChl","bandwidth":0.67}],"mark":{"type":"line","color":"#d9404f","strokeWidth":1,"clip":true},"encoding":{"x":{"field":"TChl","type":"quantitative","scale":{"domain":[18.64,163.36],"nice":false,"zero":false},"axis":{"orient":"bottom","values":[20,40,60,80,100,120,140,160],"labelExpr":"(datum.value==20||datum.value==60||datum.value==100||datum.value==140)?datum.label:''","labelPadding":4,"title":null}},"y":{"field":"DPPH","type":"quantitative","scale":{"domain":[66.81,93.49],"nice":false,"zero":false},"axis":null}}}
]},
{"width":76,"height":46,"data":{"name":"obs"},"layer":[
 {"mark":{"type":"point","filled":false,"color":"#000","size":18,"strokeWidth":0.8},"encoding":{"x":{"field":"Car","type":"quantitative","scale":{"domain":[1.46,18.74],"nice":false,"zero":false},"axis":null},"y":{"field":"DPPH","type":"quantitative","scale":{"domain":[66.81,93.49],"nice":false,"zero":false},"axis":null}}},
 {"transform":[{"loess":"DPPH","on":"Car","bandwidth":0.67}],"mark":{"type":"line","color":"#d9404f","strokeWidth":1,"clip":true},"encoding":{"x":{"field":"Car","type":"quantitative","scale":{"domain":[1.46,18.74],"nice":false,"zero":false},"axis":null},"y":{"field":"DPPH","type":"quantitative","scale":{"domain":[66.81,93.49],"nice":false,"zero":false},"axis":null}}}
]},
{"width":76,"height":46,"data":{"name":"obs"},"layer":[
 {"transform":[{"bin":{"extent":[60,100],"step":10},"field":"DPPH","as":["s_DPPH","e_DPPH"]},{"aggregate":[{"op":"count","as":"n_DPPH"}],"groupby":["s_DPPH","e_DPPH"]}],"mark":{"type":"bar","fill":"#d3d3d3","stroke":"#000","strokeWidth":0.8,"clip":true},"encoding":{"x":{"field":"s_DPPH","type":"quantitative","scale":{"domain":[58.4,101.6],"nice":false,"zero":false},"axis":null},"x2":{"field":"e_DPPH"},"y":{"field":"n_DPPH","type":"quantitative","scale":{"domain":[-0.24,6.24],"nice":false,"zero":false},"axis":null},"y2":{"datum":0}}},
 {"transform":[{"density":"DPPH","bandwidth":4.39,"extent":[58.4,101.6],"steps":120,"as":["v_DPPH","d_DPPH"]}],"mark":{"type":"line","color":"#d9404f","strokeWidth":1,"clip":true},"encoding":{"x":{"field":"v_DPPH","type":"quantitative","scale":{"domain":[58.4,101.6],"nice":false,"zero":false},"axis":null},"y":{"field":"d_DPPH","type":"quantitative","scale":{"domain":[-0.001714,0.044571],"nice":false,"zero":false},"axis":null}}},
 {"mark":{"type":"rule","color":"#000","strokeWidth":0.8},"encoding":{"x":{"field":"DPPH","type":"quantitative","scale":{"domain":[58.4,101.6],"nice":false,"zero":false},"axis":null},"y":{"datum":-0.24,"type":"quantitative","scale":{"domain":[-0.24,6.24],"nice":false,"zero":false},"axis":null},"y2":{"datum":0.134}}},
 {"data":{"values":[{"name":"DPPH"}]},"mark":{"type":"text","fontSize":17},"encoding":{"text":{"field":"name"},"x":{"datum":0.5,"type":"quantitative","scale":{"domain":[0,1]},"axis":null},"y":{"datum":0.78,"type":"quantitative","scale":{"domain":[0,1]},"axis":null}}},
 {"mark":{"type":"point","opacity":0},"encoding":{"x":{"field":"DPPH","type":"quantitative","scale":{"domain":[66.81,93.49],"nice":false,"zero":false},"axis":{"orient":"bottom","values":[70,75,80,85,90],"labelExpr":"(datum.value==70||datum.value==80||datum.value==90)?datum.label:''","labelPadding":4,"title":null}},"y":{"field":"DPPH","type":"quantitative","scale":{"domain":[66.81,93.49],"nice":false,"zero":false},"axis":{"orient":"right","values":[70,75,80,85,90],"labelExpr":"(datum.value==70||datum.value==85)?datum.label:''","labelAngle":-90,"labelAlign":"center","labelBaseline":"top","labelPadding":2,"title":null}}}}
],"resolve":{"scale":{"x":"independent","y":"independent"}}}
],
"config":{
 "view":{"stroke":"#1a1a1a","strokeWidth":1},
 "axis":{"domain":false,"grid":false,"ticks":true,"tickSize":5,"tickColor":"#222","tickWidth":1,"labelFont":"Liberation Sans","labelFontSize":9.5,"labelColor":"#333","labelOverlap":false,"labelFlush":false,"labelBound":false},
 "text":{"font":"Liberation Sans","baseline":"middle","align":"center","color":"#000"}
}
}
